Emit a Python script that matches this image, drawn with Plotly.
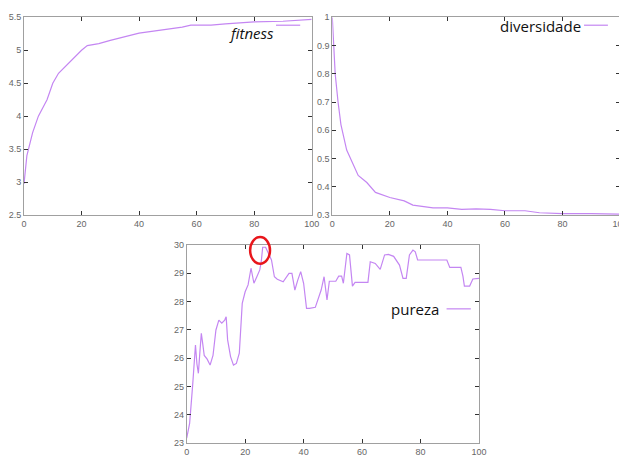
import plotly.graph_objects as go

# ---- data ----
fit_x = [0, 1, 3, 5, 8, 10, 12, 15, 20, 22, 26, 30, 35, 40, 45, 50, 55, 58, 65, 70, 80, 90, 100]
fit_y = [2.97, 3.4, 3.75, 4.0, 4.25, 4.5, 4.65, 4.78, 5.0, 5.07, 5.1, 5.15, 5.2, 5.26, 5.29, 5.32, 5.35, 5.38, 5.38, 5.4, 5.43, 5.44, 5.47]

div_x = [0, 0.5, 1, 2, 3, 5, 8, 9, 12, 15, 20, 25, 28, 35, 40, 45, 50, 55, 60, 67, 72, 80, 90, 100]
div_y = [1.0, 0.9, 0.8, 0.7, 0.62, 0.53, 0.46, 0.44, 0.415, 0.38, 0.362, 0.35, 0.335, 0.325, 0.325, 0.32, 0.322, 0.32, 0.315, 0.315, 0.308, 0.305, 0.305, 0.303]

pur_x = [0, 1, 2, 2.5, 3, 3.5, 4, 4.5, 5, 5.5, 6, 7, 8, 9, 10, 11, 12, 13, 13.5, 14, 15, 16, 17, 18,
         18.5, 19, 20, 21, 22, 23, 24, 25, 25.5, 26, 27, 28, 29, 30, 31, 33, 35, 36, 37, 38, 39, 40,
         41, 42, 44, 46, 47, 48, 48.8, 51, 52, 53, 53.6, 54.8, 55.7, 56.7, 57.6, 62, 62.8, 64.5,
         66.2, 67.7, 69, 70.8, 72.8, 74, 75.1, 76.2, 77.4, 78.2, 79, 89, 90, 93.8, 94.5, 95, 96.8,
         97.9, 100]
pur_y = [23.18, 23.7, 25.0, 25.94, 26.47, 25.8, 25.47, 26.2, 26.88, 26.5, 26.1, 25.97, 25.76, 26.1,
         27.0, 27.35, 27.24, 27.35, 27.47, 26.65, 26.06, 25.76, 25.82, 26.18, 27.24, 27.94, 28.35,
         28.59, 29.18, 28.65, 28.88, 29.12, 29.41, 29.92, 29.92, 29.7, 29.47, 28.88, 28.79, 28.7,
         29.0, 29.0, 28.41, 28.76, 29.06, 28.65, 27.76, 27.76, 27.8, 28.41, 28.88, 28.06, 28.72,
         28.72, 28.9, 28.9, 28.65, 29.7, 29.65, 28.55, 28.68, 28.68, 29.41, 29.35, 29.14, 29.65,
         29.67, 29.6, 29.29, 28.82, 28.82, 29.65, 29.82, 29.76, 29.47, 29.47, 29.21, 29.21, 28.9,
         28.55, 28.55, 28.8, 28.82]

x_ticks = [0, 20, 40, 60, 80, 100]
fit_ticks = [2.5, 3, 3.5, 4, 4.5, 5, 5.5]
div_ticks = [0.3, 0.4, 0.5, 0.6, 0.7, 0.8, 0.9, 1]
pur_ticks = [23, 24, 25, 26, 27, 28, 29, 30]

names = ["fitness", "diversidade", "pureza"]
highlight_x = [21.7, 28.5]
highlight_y = [29.34, 30.28]

# ---- styling ----
OFF = 8  # default page body margin
W, H = 627 - OFF, 457 - OFF
LINE = "#c486f2"
LW = 1.2
fig = go.Figure()

fig.add_trace(go.Scatter(x=fit_x, y=fit_y, mode="lines", line=dict(color=LINE, width=LW),
                         xaxis="x", yaxis="y", showlegend=False))
fig.add_trace(go.Scatter(x=div_x, y=div_y, mode="lines", line=dict(color=LINE, width=LW),
                         xaxis="x2", yaxis="y2", showlegend=False))
fig.add_trace(go.Scatter(x=pur_x, y=pur_y, mode="lines", line=dict(color=LINE, width=LW),
                         xaxis="x3", yaxis="y3", showlegend=False))

def px_dom(a, b):
    return [(a - OFF) / W, (b - OFF) / W]

def py_dom(top, bottom):
    return [1 - (bottom - OFF) / H, 1 - (top - OFF) / H]

tickfont = dict(family="Liberation Sans, Arial, sans-serif", size=9, color="#666666")
axcommon = dict(showgrid=False, zeroline=False, ticks="inside", ticklen=4, tickcolor="#333333",
                showline=True, linecolor="#a0a0a0", linewidth=1, mirror="ticks",
                tickfont=tickfont, fixedrange=True, automargin=False, ticklabeloverflow="allow")

fig.update_layout(
    width=W, height=H, margin=dict(l=0, r=0, t=0, b=0, autoexpand=False),
    paper_bgcolor="white", plot_bgcolor="white",
    xaxis=dict(domain=px_dom(24, 311.7), range=[0, 100], tickvals=x_ticks, anchor="y", **axcommon),
    yaxis=dict(domain=py_dom(17.3, 215), range=[2.5, 5.5], tickvals=fit_ticks, anchor="x", **axcommon),
    xaxis2=dict(domain=px_dom(332.3, 620), range=[0, 100], tickvals=x_ticks, anchor="y2", **axcommon),
    yaxis2=dict(domain=py_dom(17.3, 215), range=[0.3, 1.0], tickvals=div_ticks, anchor="x2", **axcommon),
    xaxis3=dict(domain=px_dom(186.7, 479), range=[0, 100], tickvals=x_ticks, anchor="y3", **axcommon),
    yaxis3=dict(domain=py_dom(245, 443.3), range=[23, 30], tickvals=pur_ticks, anchor="x3", **axcommon),
)

# legends (gnuplot style: text then sample on the right)
legfont = dict(family="Open Sans, Liberation Sans, sans-serif", size=15, color="#111111")
fig.add_annotation(text="<i>fitness</i>", xref="x domain", yref="y domain", x=0.875, y=0.92,
                   xanchor="right", yanchor="middle", showarrow=False, font=legfont)
fig.add_shape(type="line", xref="x domain", yref="y domain", x0=0.876, x1=0.96, y0=0.96, y1=0.96,
              line=dict(color=LINE, width=LW))
fig.add_annotation(text="diversidade", xref="x2 domain", yref="y2 domain", x=0.87, y=0.955,
                   xanchor="right", yanchor="middle", showarrow=False, font=legfont)
fig.add_shape(type="line", xref="x2 domain", yref="y2 domain", x0=0.875, x1=0.958, y0=0.96, y1=0.96,
              line=dict(color=LINE, width=LW))
fig.add_annotation(text="pureza", xref="x3 domain", yref="y3 domain", x=0.87, y=0.675,
                   xanchor="right", yanchor="middle", showarrow=False, font=legfont)
fig.add_shape(type="line", xref="x3 domain", yref="y3 domain", x0=0.889, x1=0.972, y0=0.678, y1=0.678,
              line=dict(color=LINE, width=LW))

# red highlight ellipse around the peak (domain coords derived from data and axis range)
xr, yr = [0, 100], [23, 30]
fig.add_shape(type="circle", xref="x3 domain", yref="y3 domain",
              x0=(highlight_x[0] - xr[0]) / (xr[1] - xr[0]), x1=(highlight_x[1] - xr[0]) / (xr[1] - xr[0]),
              y0=(highlight_y[0] - yr[0]) / (yr[1] - yr[0]), y1=(highlight_y[1] - yr[0]) / (yr[1] - yr[0]),
              line=dict(color="#e8161b", width=2.5), layer="above")

fig.write_html("out.html")
